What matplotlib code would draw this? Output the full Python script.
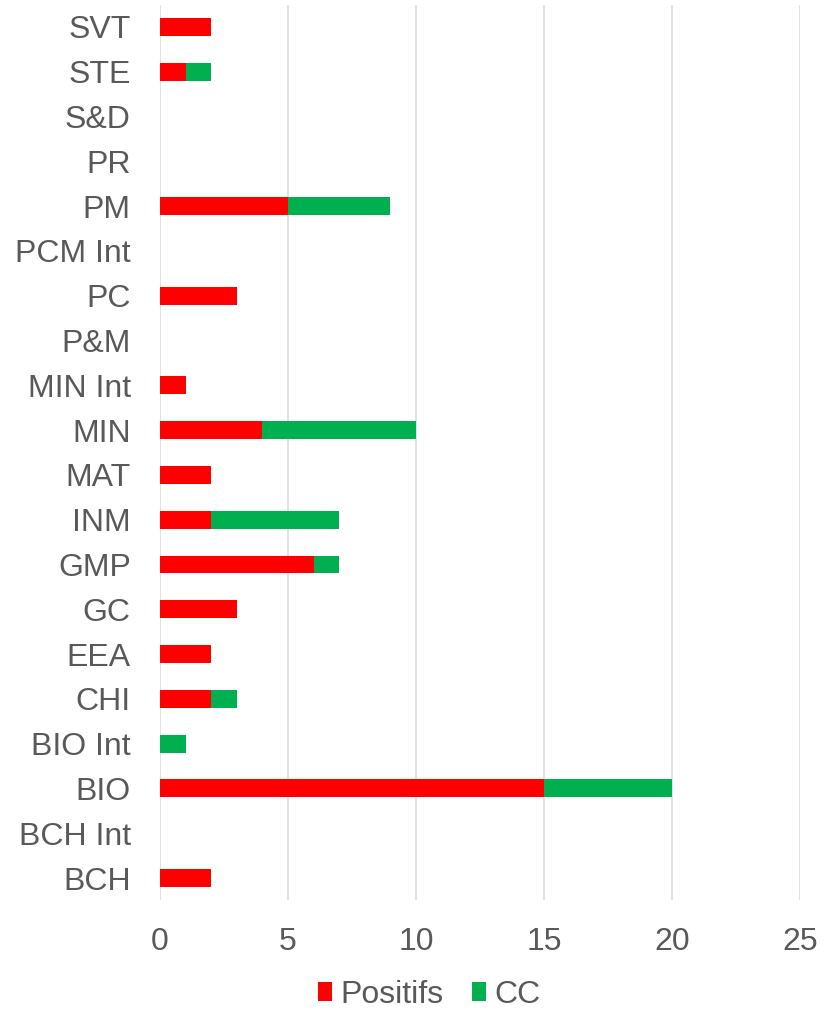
import matplotlib
matplotlib.use("Agg")
import matplotlib.pyplot as plt

plt.rcParams['font.family'] = ['Liberation Sans', 'DejaVu Sans']

# categories top to bottom as shown in the chart
categories = ["SVT", "STE", "S&D", "PR", "PM", "PCM Int", "PC", "P&M", "MIN Int", "MIN",
              "MAT", "INM", "GMP", "GC", "EEA", "CHI", "BIO Int", "BIO", "BCH Int", "BCH"]
positifs = [2, 1, 0, 0, 5, 0, 3, 0, 1, 4, 2, 2, 6, 3, 2, 2, 0, 15, 0, 2]
cc = [0, 1, 0, 0, 4, 0, 0, 0, 0, 6, 0, 5, 1, 0, 0, 1, 1, 5, 0, 0]
xticks = [0, 5, 10, 15, 20, 25]

text_col = "#595959"
grid_col = "#D9D9D9"

fig = plt.figure(figsize=(8.37, 10.11), dpi=100)
ax = fig.add_axes([160 / 837, 1 - 900.4 / 1011, 640 / 837, 895.8 / 1011])

y = list(range(len(categories)))
ax.barh(y, positifs, height=0.4, color="#FF0000", label="Positifs", zorder=3)
ax.barh(y, cc, left=positifs, height=0.4, color="#00B050", label="CC", zorder=3)

ax.set_yticks(y)
ax.set_yticklabels(categories)
ax.set_ylim(len(categories) - 0.5, -0.5)
ax.set_xlim(0, 25)
ax.set_xticks(xticks)

ax.grid(axis="x", color=grid_col, linewidth=1.1, zorder=0)
for s in ax.spines.values():
    s.set_visible(False)
ax.tick_params(axis="both", length=0, labelsize=23, colors=text_col)
ax.tick_params(axis="y", pad=21)
ax.tick_params(axis="x", pad=19)

fig.legend(loc="center", bbox_to_anchor=(429 / 837, 1 - 995 / 1011), ncol=2,
           frameon=False, fontsize=23, labelcolor=text_col,
           handlelength=0.45, handleheight=0.55, handletextpad=0.25,
           columnspacing=0.9, borderpad=0)

fig.savefig("out.png", dpi=100)
